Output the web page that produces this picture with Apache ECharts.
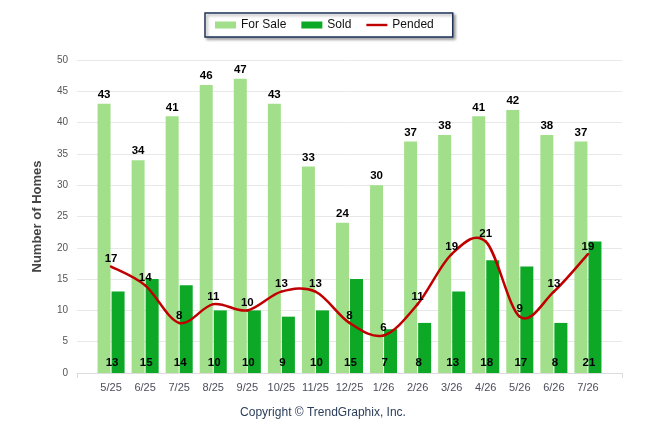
<!DOCTYPE html>
<html>
<head>
<meta charset="utf-8">
<script src="https://cdn.jsdelivr.net/npm/echarts@6/dist/echarts.min.js"></script>
<style>
  html, body { margin: 0; padding: 0; background: #fff; }
  #chart { width: 646px; height: 434px; }
</style>
</head>
<body>
<div id="chart"></div>
<script>
// months shown on the x axis
var months = ['5/25', '6/25', '7/25', '8/25', '9/25', '10/25', '11/25', '12/25',
              '1/26', '2/26', '3/26', '4/26', '5/26', '6/26', '7/26'];
var forSale = [43, 34, 41, 46, 47, 43, 33, 24, 30, 37, 38, 41, 42, 38, 37];
var sold    = [13, 15, 14, 10, 10, 9, 10, 15, 7, 8, 13, 18, 17, 8, 21];
var pended  = [17, 14, 8, 11, 10, 13, 13, 8, 6, 11, 19, 21, 9, 13, 19];

// pad one empty slot each side so the axis runs a full slot past the first and last month
function padded(arr) {
    return ['-'].concat(arr, ['-']);
}

var chartDom = document.getElementById('chart');
var myChart = echarts.init(chartDom, null, { renderer: 'canvas' });
var font = 'Liberation Sans, Arial, sans-serif';

// catmull-rom segment between point i and i+1 of the pended line
function renderPended(params, api) {
    var i = params.dataIndex;
    if (i >= pended.length - 1) {
        return null;
    }
    var pt = function (k) {
        k = Math.max(0, Math.min(pended.length - 1, k));
        return api.coord([k + 1, pended[k]]);
    };
    var p0 = pt(i - 1), p1 = pt(i), p2 = pt(i + 1), p3 = pt(i + 2);
    var t = 1 / 6;
    return {
        type: 'bezierCurve',
        shape: {
            x1: p1[0], y1: p1[1],
            cpx1: p1[0] + (p2[0] - p0[0]) * t, cpy1: p1[1] + (p2[1] - p0[1]) * t,
            cpx2: p2[0] - (p3[0] - p1[0]) * t, cpy2: p2[1] - (p3[1] - p1[1]) * t,
            x2: p2[0], y2: p2[1]
        },
        style: { stroke: '#c00000', lineWidth: 2.5, fill: null, lineCap: 'round' }
    };
}

var option = {
    animation: false,
    textStyle: { fontFamily: font },
    legend: {
        top: 13,
        left: 205,
        padding: [6, 19, 6, 10],
        itemGap: 15,
        itemWidth: 21,
        itemHeight: 7,
        borderColor: '#1f3358',
        borderWidth: 1.5,
        backgroundColor: '#fff',
        shadowColor: 'rgba(0,0,0,0.35)',
        shadowBlur: 3,
        shadowOffsetX: 2,
        shadowOffsetY: 2,
        textStyle: { color: '#111', fontSize: 12, fontFamily: font },
        data: [
            { name: 'For Sale', icon: 'rect' },
            { name: 'Sold', icon: 'rect' },
            { name: 'Pended', icon: 'path://M0,0H21V2.4H0Z', itemStyle: { color: '#c00000', opacity: 1 } }
        ]
    },
    title: {
        text: 'Copyright \u00a9 TrendGraphix, Inc.',
        left: 'center',
        top: 402,
        textStyle: { color: '#2c3e5a', fontSize: 12, fontWeight: 'normal', fontFamily: font }
    },
    grid: { left: 77, right: 24, top: 60, bottom: 61 },
    xAxis: {
        type: 'category',
        boundaryGap: false,
        data: padded(months).map(function (m) { return m === '-' ? '' : m; }),
        axisLine: { lineStyle: { color: '#dcdcdc' } },
        axisTick: {
            length: 5,
            lineStyle: { color: '#dcdcdc' },
            interval: function (idx) { return idx === 0 || idx === months.length + 1; }
        },
        axisLabel: { interval: 0, color: '#4d4d5d', fontSize: 11, margin: 9, fontFamily: font }
    },
    yAxis: {
        type: 'value',
        min: 0,
        max: 50,
        interval: 5,
        name: 'Number of Homes',
        nameLocation: 'middle',
        nameGap: 33,
        nameTextStyle: { color: '#444', fontSize: 13, fontWeight: 'bold', fontFamily: font },
        axisLine: { show: false },
        axisTick: { show: false },
        axisLabel: { color: '#555', fontSize: 10, margin: 9, fontFamily: font },
        splitLine: { lineStyle: { color: '#e8e8e8' } }
    },
    series: [
        {
            name: 'For Sale',
            type: 'bar',
            barWidth: 13,
            barGap: '8%',
            itemStyle: { color: '#a2df8b' },
            label: { show: true, position: 'top', distance: 3, color: '#000', fontWeight: 'bold', fontSize: 11.5 },
            data: padded(forSale)
        },
        {
            name: 'Sold',
            type: 'bar',
            barWidth: 13,
            itemStyle: { color: '#0ca826' },
            label: { show: true, position: 'insideBottom', distance: 4, offset: [-6, 0], color: '#000', fontWeight: 'bold', fontSize: 11.5 },
            data: padded(sold)
        },
        {
            name: 'Pended curve',
            type: 'custom',
            z: 4,
            renderItem: renderPended,
            data: pended.map(function (v, i) { return [i + 1, v]; })
        },
        {
            // carries the legend entry and value labels; the curve itself is drawn above
            name: 'Pended',
            type: 'line',
            symbol: 'circle',
            symbolSize: 1,
            z: 5,
            lineStyle: { opacity: 0 },
            itemStyle: { color: '#c00000' },
            label: { show: true, position: 'top', distance: 1, color: '#000', fontWeight: 'bold', fontSize: 11.5 },
            data: padded(pended)
        }
    ]
};

option && myChart.setOption(option);
</script>
</body>
</html>
